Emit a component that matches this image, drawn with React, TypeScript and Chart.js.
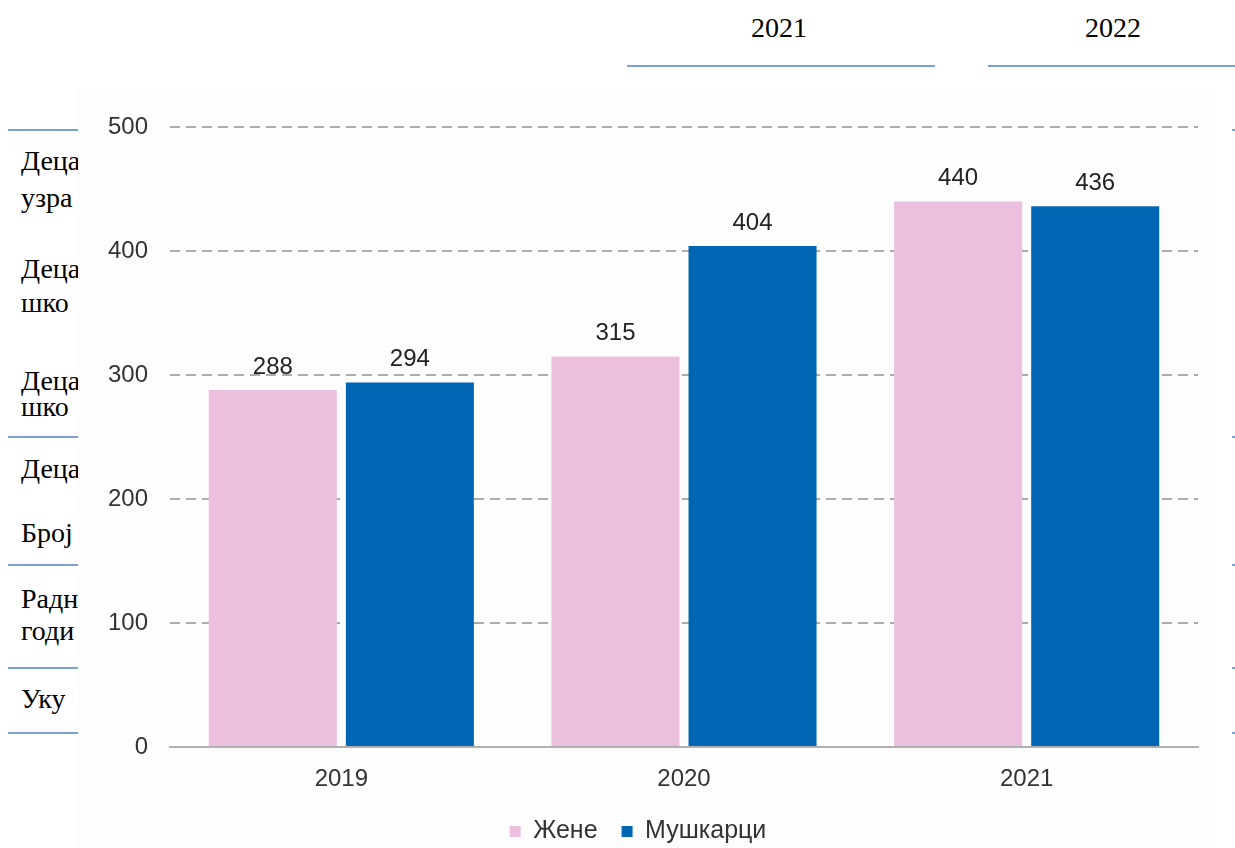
import React, { useEffect, useRef } from "react";
import { Chart, registerables } from "chart.js";

Chart.register(...registerables);

// ---- chart data ----
const categories = ["2019", "2020", "2021"];
const seriesNames = ["Жене", "Мушкарци"];
const womenValues = [288, 315, 440];
const menValues = [294, 404, 436];
const yMin = 0;
const yMax = 500;
const yStep = 100;

// ---- background document (table behind the chart picture) ----
const tableYears = ["2021", "2022"];
const rowTexts = ["Деца", "узра", "Деца", "шко", "Деца", "шко", "Деца", "Број", "Радн", "годи", "Уку"];

const PINK = "#ebbfdd";
const BLUE = "#0066b3";

const valueLabels = {
  id: "valueLabels",
  afterDatasetsDraw(chart: any) {
    const ctx = chart.ctx;
    ctx.save();
    ctx.font = '24px "Liberation Sans", Arial, sans-serif';
    ctx.fillStyle = "#222";
    ctx.textAlign = "center";
    ctx.textBaseline = "alphabetic";
    chart.data.datasets.forEach((ds: any, i: number) => {
      chart.getDatasetMeta(i).data.forEach((bar: any, j: number) => {
        ctx.fillText(String(ds.data[j]), bar.x, bar.y - 16);
      });
    });
    ctx.restore();
  },
};

function BarChart() {
  const ref = useRef<HTMLCanvasElement>(null);
  useEffect(() => {
    if (!ref.current) return;
    const font = { family: '"Liberation Sans", Arial, sans-serif', size: 24 };
    const chart = new Chart(ref.current, {
      type: "bar",
      data: {
        labels: categories,
        datasets: [
          { label: seriesNames[0], data: womenValues, backgroundColor: PINK, categoryPercentage: 0.8, barPercentage: 0.934 },
          { label: seriesNames[1], data: menValues, backgroundColor: BLUE, categoryPercentage: 0.8, barPercentage: 0.934 },
        ],
      },
      options: {
        animation: false,
        responsive: false,
        maintainAspectRatio: false,
        layout: { padding: { top: 39, right: 16, bottom: 4, left: 0 } },
        plugins: {
          legend: {
            position: "bottom",
            labels: { boxWidth: 11, boxHeight: 11, font: { ...font, size: 25 }, color: "#333", padding: 24 },
          },
          tooltip: { enabled: false },
        },
        scales: {
          x: {
            grid: { display: false, drawTicks: false },
            border: { display: true, color: "#b0b0b0", width: 2 },
            ticks: { font, color: "#333", padding: 18 },
            afterFit: (s: any) => { s.height = 48; },
          },
          y: {
            min: yMin,
            max: yMax,
            ticks: { stepSize: yStep, font, color: "#333", padding: 22 },
            grid: {
              drawTicks: false,
              color: (c: any) => (c.tick && c.tick.value === 0 ? "rgba(0,0,0,0)" : "#ababab"),
              lineWidth: 2,
            },
            border: { display: false, dash: [10, 6] },
            afterFit: (s: any) => { s.width = 92; },
          },
        },
      },
      plugins: [valueLabels],
    });
    return () => chart.destroy();
  }, []);
  return <canvas ref={ref} width={1136} height={770} style={{ display: "block", width: 1136, height: 770 }} />;
}

export default function App() {
  const serif = '"Liberation Serif", "Times New Roman", serif';
  const rowTops = [145, 182, 253, 287, 365, 391, 453, 517, 583, 615, 683];
  const lineYs = [129, 436, 564, 667, 732];
  const lineColor = "#7ba0d2";
  return (
    <div style={{ position: "absolute", left: 0, top: 0, width: 1235, height: 848, overflow: "hidden", background: "#fff" }}>
      <div style={{ position: "absolute", left: 751, top: 12, fontFamily: serif, fontSize: 28, color: "#000" }}>{tableYears[0]}</div>
      <div style={{ position: "absolute", left: 1085, top: 12, fontFamily: serif, fontSize: 28, color: "#000" }}>{tableYears[1]}</div>
      <div style={{ position: "absolute", left: 627, top: 65, width: 308, height: 2, background: lineColor }} />
      <div style={{ position: "absolute", left: 988, top: 65, width: 247, height: 2, background: lineColor }} />
      {lineYs.map((y, i) => (
        <div key={"l" + i} style={{ position: "absolute", left: 8, top: y, width: 70, height: 2, background: lineColor }} />
      ))}
      {lineYs.map((y, i) => (
        <div key={"r" + i} style={{ position: "absolute", left: 1232, top: y, width: 3, height: 2, background: lineColor }} />
      ))}
      {rowTexts.map((t, i) => (
        <div key={"t" + i} style={{ position: "absolute", left: 21, top: rowTops[i], fontFamily: serif, fontSize: 28, color: "#000", whiteSpace: "nowrap" }}>{t}</div>
      ))}
      <div style={{ position: "absolute", left: 78, top: 88, width: 1136, height: 770, background: "#fdfdfd" }}>
        <BarChart />
      </div>
    </div>
  );
}
